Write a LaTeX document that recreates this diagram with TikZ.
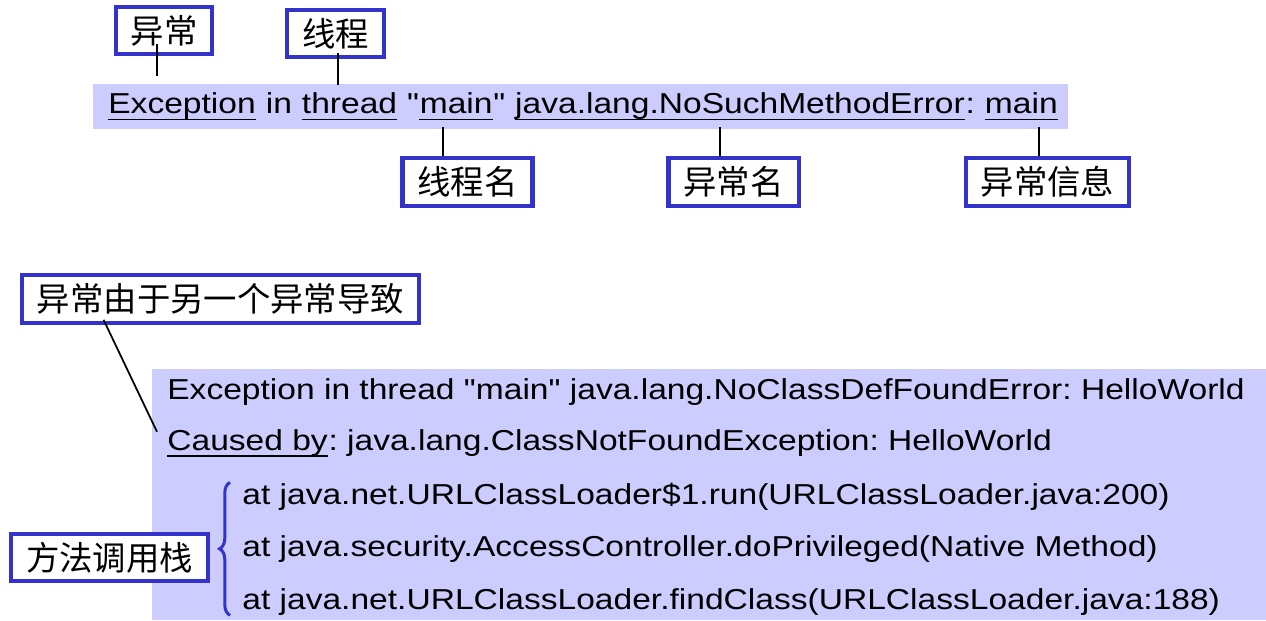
\documentclass[tikz,border=0pt]{standalone}
\usepackage{xcolor}
\usepackage{tikz}
\usepackage{fontspec}
\usetikzlibrary{positioning, fit, calc, decorations.pathreplacing}
\newfontfamily\codefont{Liberation Sans}[FakeStretch=1.165]
\newfontfamily\cjk{Noto Sans CJK SC}
\definecolor{bandblue}{HTML}{CCCCFF}
\definecolor{boxblue}{HTML}{3333CC}

\tikzset{
    band/.style={fill=bandblue, draw=none, inner sep=0pt},
    word/.style={inner sep=0pt, anchor=base west, font=\codefont\fontsize{16.4}{19}\selectfont\frenchspacing},
    tag/.style={draw=boxblue, line width=2.3pt, fill=white, inner xsep=8.5pt, inner ysep=0pt,
        minimum height=27pt, font=\cjk\fontsize{19}{22}\selectfont},
    conn/.style={black, line width=1pt},
    uline/.style={black, line width=1.1pt},
}

\begin{document}
\begin{tikzpicture}[x=0.02cm, y=-0.02cm]
    \useasboundingbox (0,0) rectangle (1266,620);
    % Highlight bands
    \node[band, fit={(93,84) (1068,129)}] (band1) {};
    \node[band, fit={(152,369) (1266,620)}] (band2) {};

    % First message, word by word
    \node[word] (e1) at (108,113.5) {Exception};
    \node[word] (s1) at (e1.base east) {\ in\ \null};
    \node[word] (e2) at (s1.base east) {thread};
    \node[word] (s2) at (e2.base east) {\ "};
    \node[word] (e3) at (s2.base east) {main};
    \node[word] (s3) at (e3.base east) {"\ \null};
    \node[word] (e4) at (s3.base east) {java.lang.NoSuchMethodError};
    \node[word] (s4) at (e4.base east) {:\ \null};
    \node[word] (e5) at (s4.base east) {main};

    % Second message
    \node[word] (l1) at (167,399.5) {Exception in thread "main" java.lang.NoClassDefFoundError: HelloWorld};
    \node[word] (c1) at (167,450) {Caused by};
    \node[word] (c2) at (c1.base east) {: java.lang.ClassNotFoundException: HelloWorld};
    \node[word] (a1) at (242,504) {at java.net.URLClassLoader\$1.run(URLClassLoader.java:200)};
    \node[word] (a2) at (242,556.5) {at java.security.AccessController.doPrivileged(Native Method)};
    \node[word] (a3) at (242,609) {at java.net.URLClassLoader.findClass(URLClassLoader.java:188)};

    \foreach \w in {e1,e2,e3,e4,e5,c1}
        \draw[uline] ([yshift=-3.4pt]\w.base west) -- ([yshift=-3.4pt]\w.base east);

    % Labels
    \node[tag] (yc) at (164,30.5) {异常};
    \node[tag] (xc) at (335.5,33.5) {线程};
    \node[tag] (xcm) at (467.5,182) {线程名};
    \node[tag] (ycm) at (733.5,182) {异常名};
    \node[tag] (ycxx) at (1047.5,182) {异常信息};
    \node[tag] (cause) at (220.5,299) {异常由于另一个异常导致};
    \node[tag] (stack) at (109.5,557.5) {方法调用栈};

    % Leader lines
    \draw[conn] ([xshift=-4pt,yshift=7pt]yc.south) -- ++(0,32);
    \draw[conn] ([xshift=1.4pt,yshift=3.4pt]xc.south) -- ++(0,32);
    \foreach \nm/\sh in {xcm/-13.9pt, ycm/-7.7pt, ycxx/-4.8pt}
        \draw[conn] ([xshift=\sh]\nm.north) -- ++(0,-29);
    \draw[conn] ([xshift=47.6pt,yshift=2.8pt]cause.south west) -- ([xshift=-5.7pt,yshift=-1.7pt]c1.north west);

    % Stack brace
    \draw[boxblue, line width=1.7pt, decorate, decoration={brace, amplitude=6pt}]
        ([xshift=-6.8pt]a3.south west) -- ([xshift=-6.8pt]a1.north west);
\end{tikzpicture}
\end{document}
